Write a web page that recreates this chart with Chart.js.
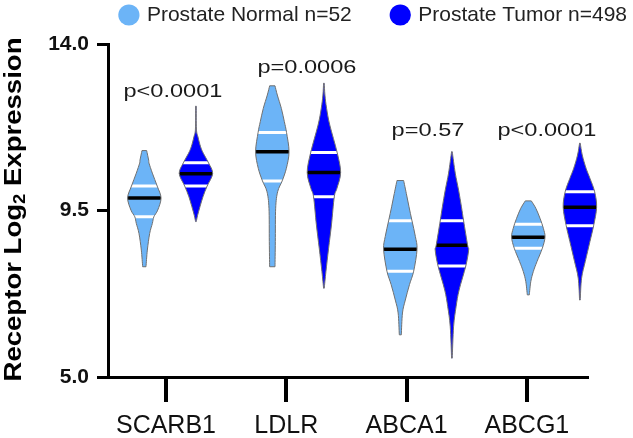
<!DOCTYPE html>
<html><head><meta charset="utf-8">
<script src="https://cdn.jsdelivr.net/npm/chart.js@4"></script>
<style>html,body{margin:0;padding:0;background:#fff;} #c{display:block;}</style>
</head><body>
<canvas id="c" width="633" height="438"></canvas>
<script>
// ---------- data ----------
const categories = ['SCARB1', 'LDLR', 'ABCA1', 'ABCG1'];
const seriesLabels = ['Prostate Normal n=52', 'Prostate Tumor n=498'];
const yTickValues = [5.0, 9.5, 14.0];
const pValueLabels = ['p<0.0001', 'p=0.0006', 'p=0.57', 'p<0.0001'];

const normalMedian = [9.84, 11.09, 8.45, 8.78];
const normalQ1 = [9.33, 10.30, 7.86, 8.48];
const normalQ3 = [10.16, 11.61, 9.22, 9.13];
const tumorMedian = [10.49, 10.53, 8.56, 9.59];
const tumorQ1 = [10.16, 9.87, 8.00, 9.09];
const tumorQ3 = [10.79, 11.07, 9.22, 10.01];

// density profiles: [value, relative density]
const normalSCARB1 = [[11.12,0.14],[10.86,0.26],[10.78,0.28],[10.51,0.48],[10.16,0.77],[9.84,1.0],[9.51,0.80],[9.33,0.57],[9.15,0.48],[8.88,0.32],[8.43,0.18],[7.98,0.10]];
const normalLDLR = [[12.87,0.16],[12.62,0.30],[12.26,0.54],[11.90,0.72],[11.61,0.85],[11.09,1.0],[10.64,0.84],[10.30,0.59],[10.01,0.32],[9.56,0.20],[8.66,0.18],[7.98,0.16]];
const normalABCA1 = [[10.31,0.20],[9.96,0.36],[9.60,0.52],[9.22,0.70],[8.80,0.90],[8.45,1.0],[7.86,0.80],[7.50,0.55],[7.08,0.30],[6.73,0.13],[6.14,0.06]];
const normalABCG1 = [[9.76,0.18],[9.56,0.45],[9.29,0.70],[9.02,0.90],[8.78,1.0],[8.48,0.84],[8.12,0.52],[7.85,0.30],[7.58,0.15],[7.22,0.06]];
const tumorSCARB1 = [[12.32,0.02],[11.70,0.03],[11.49,0.12],[11.22,0.28],[11.04,0.45],[10.79,0.75],[10.50,1.0],[10.16,0.67],[9.87,0.42],[9.60,0.24],[9.37,0.10],[9.20,0.02]];
const tumorLDLR = [[12.94,0.02],[12.62,0.06],[12.26,0.16],[11.81,0.35],[11.07,0.79],[10.53,1.0],[10.10,0.78],[9.87,0.62],[9.11,0.45],[8.48,0.28],[7.85,0.12],[7.40,0.02]];
const tumorABCA1 = [[11.09,0.02],[10.51,0.20],[10.05,0.40],[9.60,0.57],[9.22,0.70],[8.56,0.94],[8.43,1.0],[8.00,0.83],[7.35,0.43],[6.90,0.25],[6.36,0.10],[5.51,0.02]];
const tumorABCG1 = [[11.32,0.02],[11.0,0.14],[10.64,0.37],[10.37,0.60],[10.01,0.88],[9.59,1.0],[9.09,0.82],[8.66,0.60],[8.12,0.32],[7.67,0.10],[7.08,0.02]];

const normalProfiles = [normalSCARB1, normalLDLR, normalABCA1, normalABCG1];
const tumorProfiles = [tumorSCARB1, tumorLDLR, tumorABCA1, tumorABCG1];

// ---------- layout / style ----------
const FONT = '"Liberation Sans", Arial, sans-serif';
const GROUP_STEP = 1.064;          // x-units between violin groups
const SERIES_X0 = [-0.180, 0.249]; // x-unit offset of each series
const HALF_WIDTH = 0.139;          // x-units of half width at density 1
const COLORS = ['#6cb4f7', '#0000ff'];
const OUTLINE = '#707070';
const pLabelX = [0.058, 1.172, 2.178, 3.167];
const pLabelY = [12.74, 13.38, 11.70, 11.68];
const LEGEND_PAD = 41, LEGEND_FONT = 21;
const LEGEND_RIGHT = 668, LEGEND_CENTER_Y = 15;

const seriesDefs = [
  {median: normalMedian, q1: normalQ1, q3: normalQ3, profiles: normalProfiles},
  {median: tumorMedian, q1: tumorQ1, q3: tumorQ3, profiles: tumorProfiles}
];

function spline(ctx, pts, first) {
  if (first) ctx.moveTo(pts[0].x, pts[0].y); else ctx.lineTo(pts[0].x, pts[0].y);
  for (let i = 0; i < pts.length - 1; i++) {
    const p0 = pts[i - 1] || pts[i], p1 = pts[i], p2 = pts[i + 1], p3 = pts[i + 2] || pts[i + 1];
    const t = 1 / 6;
    ctx.bezierCurveTo(p1.x + (p2.x - p0.x) * t, p1.y + (p2.y - p0.y) * t,
                      p2.x - (p3.x - p1.x) * t, p2.y - (p3.y - p1.y) * t, p2.x, p2.y);
  }
}

const violinPlugin = {
  id: 'violins',
  afterDatasetsDraw(chart) {
    const xs = chart.scales.x, ys = chart.scales.y, ctx = chart.ctx;
    const unit = xs.getPixelForValue(HALF_WIDTH) - xs.getPixelForValue(0);
    seriesDefs.forEach((s, si) => {
      s.profiles.forEach((prof, ci) => {
        const cx = xs.getPixelForValue(SERIES_X0[si] + GROUP_STEP * ci);
        const right = prof.map(([v, d]) => ({x: cx + d * unit, y: ys.getPixelForValue(v)}));
        const left = prof.slice().reverse().map(([v, d]) => ({x: cx - d * unit, y: ys.getPixelForValue(v)}));
        const path = new Path2D();
        spline(path, right, true);
        spline(path, left, false);
        path.closePath();
        ctx.save();
        ctx.fillStyle = COLORS[si];
        ctx.fill(path);
        ctx.save();
        ctx.clip(path);
        const line = (v, color, w) => {
          const y = ys.getPixelForValue(v);
          ctx.beginPath();
          ctx.moveTo(cx - unit * 1.3, y); ctx.lineTo(cx + unit * 1.3, y);
          ctx.strokeStyle = color; ctx.lineWidth = w; ctx.stroke();
        };
        line(s.q1[ci], '#ffffff', 3);
        line(s.q3[ci], '#ffffff', 3);
        line(s.median[ci], '#000000', 3.5);
        ctx.restore();
        ctx.lineWidth = 1; ctx.strokeStyle = OUTLINE;
        ctx.stroke(path);
        ctx.restore();
      });
    });
    // p-value labels
    ctx.save();
    ctx.fillStyle = '#1a1a1a';
    ctx.font = '18px ' + FONT;
    ctx.textAlign = 'center';
    ctx.textBaseline = 'alphabetic';
    pValueLabels.forEach((t, i) => {
      const px = xs.getPixelForValue(pLabelX[i]);
      const py = ys.getPixelForValue(pLabelY[i]) + 0.358 * 18;
      ctx.save();
      ctx.translate(px, py);
      ctx.scale(1.31, 1);
      ctx.fillText(t, 0, 0);
      ctx.restore();
    });
    ctx.restore();
  },
  afterDraw(chart) {
    // y-axis title with subscript
    const ctx = chart.ctx, a = chart.chartArea;
    const main = 'bold 24px ' + FONT, sub = 'bold 16px ' + FONT;
    const p1 = 'Receptor Log', p2 = '2', p3 = ' Expression';
    ctx.save();
    ctx.font = main; const w1 = ctx.measureText(p1).width, w3 = ctx.measureText(p3).width;
    ctx.font = sub; const w2 = ctx.measureText(p2).width;
    const total = w1 + w2 + w3;
    const sx = 344 / total;
    ctx.translate(21, (a.top + a.bottom) / 2 - 1);
    ctx.rotate(-Math.PI / 2);
    ctx.scale(sx, 1);
    ctx.fillStyle = '#000';
    ctx.textBaseline = 'alphabetic';
    let x = -total / 2;
    ctx.font = main; ctx.fillText(p1, x, 0); x += w1;
    ctx.font = sub; ctx.fillText(p2, x, 4); x += w2;
    ctx.font = main; ctx.fillText(p3, x, 0);
    ctx.restore();
  },
  afterLayout(chart) {
    const lg = chart.legend;
    if (!lg) return;
    const dx = LEGEND_RIGHT - lg.right;
    lg.left += dx; lg.right += dx;
    const dy = (LEGEND_CENTER_Y - LEGEND_PAD - LEGEND_FONT / 2) - lg.top;
    lg.top += dy; lg.bottom += dy;
  }
};

const datasets = seriesDefs.map((s, si) => ({
  label: seriesLabels[si],
  data: s.median.map((m, ci) => ({x: SERIES_X0[si] + GROUP_STEP * ci, y: m})),
  backgroundColor: COLORS[si],
  borderColor: COLORS[si],
  borderWidth: 0,
  pointRadius: 0,
  pointHoverRadius: 0,
  pointStyle: 'circle'
}));

new Chart(document.getElementById('c'), {
  type: 'scatter',
  data: {datasets},
  plugins: [violinPlugin],
  options: {
    responsive: false,
    animation: false,
    devicePixelRatio: 1,
    layout: {padding: {top: 44 - (LEGEND_FONT + LEGEND_PAD + 10), right: 0, left: 0, bottom: 0}},
    plugins: {
      tooltip: {enabled: false},
      legend: {
        display: true, position: 'top', align: 'end',
        labels: {
          usePointStyle: true, pointStyle: 'circle', boxWidth: 15, boxHeight: 15,
          padding: LEGEND_PAD, color: '#222',
          font: {family: FONT, size: LEGEND_FONT}
        }
      }
    },
    scales: {
      x: {
        type: 'linear', min: -0.482, max: 3.50,
        afterBuildTicks: (axis) => { axis.ticks = categories.map((c, i) => ({value: i})); },
        afterFit: (s) => { s.height = 61; },
        grid: {display: true, drawOnChartArea: false, drawTicks: true, tickLength: 25, lineWidth: 4, color: '#000'},
        border: {display: true, width: 3, color: '#000'},
        ticks: {
          autoSkip: false, maxRotation: 0, padding: 9, color: '#111',
          font: {family: FONT, size: 25},
          callback: (v) => categories[Math.round(v)]
        }
      },
      y: {
        type: 'linear', min: 5, max: 14,
        afterBuildTicks: (axis) => { axis.ticks = yTickValues.map(v => ({value: v})); },
        afterFit: (s) => { s.width = 108; },
        grid: {display: true, drawOnChartArea: false, drawTicks: true, tickLength: 11, lineWidth: 3, color: '#000'},
        border: {display: true, width: 3, color: '#000'},
        ticks: {
          padding: 8, color: '#111',
          font: {family: FONT, size: 21, weight: 'bold'},
          callback: (v) => Number(v).toFixed(1)
        }
      },
      yRight: {
        type: 'linear', position: 'right', min: 0, max: 1,
        grid: {display: false, drawTicks: false},
        border: {display: false},
        ticks: {display: false},
        afterFit: (s) => { s.width = 46; }
      }
    }
  }
});
</script>
</body></html>
